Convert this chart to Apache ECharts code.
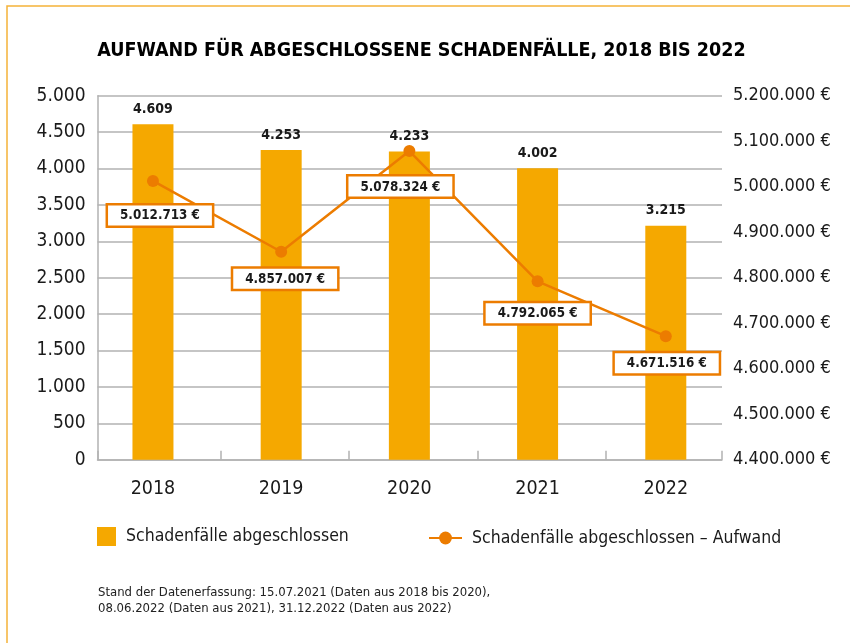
<!DOCTYPE html>
<html>
<head>
<meta charset="utf-8">
<script src="https://cdn.jsdelivr.net/npm/echarts@6/dist/echarts.min.js"></script>
<style>
html,body{margin:0;padding:0;background:#fff;}
#chart{width:850px;height:643px;}
</style>
</head>
<body>
<div id="chart"></div>
<script>
// ---- data ----
var years = ['2018', '2019', '2020', '2021', '2022'];
var faelle = [4609, 4253, 4233, 4002, 3215];
var aufwand = [5012713, 4857007, 5078324, 4792065, 4671516];
var leftTicks = { min: 0, max: 5000, interval: 500 };
var rightTicks = { min: 4400000, max: 5200000, interval: 100000 };
var titleText = 'AUFWAND FÜR ABGESCHLOSSENE SCHADENFÄLLE, 2018 BIS 2022';
var seriesNames = ['Schadenfälle abgeschlossen', 'Schadenfälle abgeschlossen – Aufwand'];
var footnote = ['Stand der Datenerfassung: 15.07.2021 (Daten aus 2018 bis 2020),',
                '08.06.2022 (Daten aus 2021), 31.12.2022 (Daten aus 2022)'];

// ---- styling ----
var FONT = "'DejaVu Sans Condensed', 'DejaVu Sans', sans-serif";
var BAR = '#F5A800';
var LINE = '#EC7C00';
var GRID = '#B2B2B2';
var TXT = '#1a1a1a';
// small label nudges (styling only)
var labelNudge = [[7, 3.5], [4, -4], [-9, 4.5], [0, 1], [1, -4]];

function fmt(n) {
  return String(Math.round(n)).replace(/\B(?=(\d{3})+(?!\d))/g, '.');
}

var xMin = -0.4326, xMax = 4.4384;

var chart = echarts.init(document.getElementById('chart'), null, { renderer: 'canvas' });
chart.setOption({
  animation: false,
  backgroundColor: '#fff',
  textStyle: { fontFamily: FONT },
  graphic: [
    { type: 'rect', shape: { x: 7, y: 6, width: 900, height: 700 },
      style: { fill: 'none', stroke: '#F5B238', lineWidth: 1.5 }, silent: true },
    { type: 'text', x: 421.5, y: 51,
      style: { text: titleText, textAlign: 'center', textVerticalAlign: 'middle',
               fill: '#000', font: "bold 19.5px " + FONT } },
    { type: 'text', x: 98, y: 593,
      style: { text: footnote[0], textAlign: 'left', textVerticalAlign: 'middle',
               fill: '#222', font: "13px " + FONT } },
    { type: 'text', x: 98, y: 609,
      style: { text: footnote[1], textAlign: 'left', textVerticalAlign: 'middle',
               fill: '#222', font: "13px " + FONT } }
  ],
  legend: [
    { data: [seriesNames[0]], left: 97, top: 527, padding: 0, icon: 'rect', itemWidth: 19, itemHeight: 19,
      textStyle: { fontFamily: FONT, fontSize: 17.5, color: TXT, padding: [0, 0, 0, 5] } },
    { data: [seriesNames[1]], left: 428, top: 529, padding: 0, itemWidth: 33, itemHeight: 16,
      textStyle: { fontFamily: FONT, fontSize: 17.5, color: TXT, padding: [0, 0, 0, 5] } }
  ],
  grid: { left: 97.5, right: 128, top: 95.7, bottom: 183.3, containLabel: false },
  xAxis: {
    type: 'value', min: xMin, max: xMax,
    splitLine: { show: false },
    axisLine: { show: true, onZero: false, lineStyle: { color: GRID, width: 1.5 } },
    axisTick: { show: true, inside: true, length: 9, lineStyle: { color: GRID, width: 1.5 },
                customValues: [xMin, 0.53, 1.53, 2.53, 3.53, xMax] },
    axisLabel: { customValues: [0, 1, 2, 3, 4], margin: 19, fontSize: 19.5, color: TXT, fontFamily: FONT,
                 formatter: function (v) { return years[Math.round(v)]; } }
  },
  yAxis: [
    { type: 'value', min: leftTicks.min, max: leftTicks.max, interval: leftTicks.interval, position: 'left',
      axisLine: { show: true, onZero: false, lineStyle: { color: GRID, width: 1.5 } },
      axisTick: { show: false },
      splitLine: { show: true, lineStyle: { color: GRID, width: 1.5 } },
      axisLabel: { margin: 12, fontSize: 19, color: TXT, fontFamily: FONT, formatter: fmt } },
    { type: 'value', min: rightTicks.min, max: rightTicks.max, interval: rightTicks.interval, position: 'right',
      axisLine: { show: false, onZero: false }, axisTick: { show: false }, splitLine: { show: false },
      axisLabel: { margin: 11, fontSize: 18, color: TXT, fontFamily: FONT,
                   formatter: function (v) { return fmt(v) + ' €'; } } }
  ],
  series: [
    { name: seriesNames[0], type: 'bar', yAxisIndex: 0, barWidth: 41,
      itemStyle: { color: BAR },
      data: faelle.map(function (v, i) { return [i, v]; }),
      label: { show: true, position: 'top', distance: 8, fontFamily: FONT, fontWeight: 'bold',
               fontSize: 14, color: TXT, formatter: function (p) { return fmt(p.value[1]); } },
      z: 2 },
    { name: seriesNames[1], type: 'line', yAxisIndex: 1,
      data: aufwand.map(function (v, i) {
        return { value: [i, v], label: { offset: labelNudge[i] } };
      }),
      lineStyle: { color: LINE, width: 2.5 }, itemStyle: { color: LINE },
      symbol: 'circle', symbolSize: 12,
      label: { show: true, position: 'bottom', distance: 15, fontFamily: FONT, fontWeight: 'bold',
               fontSize: 13.3, color: TXT, backgroundColor: '#fff', borderColor: LINE, borderWidth: 2.5,
               padding: [4, 12, 3, 12],
               formatter: function (p) { return fmt(p.value[1]) + ' €'; } },
      z: 5 }
  ]
});
</script>
</body>
</html>
